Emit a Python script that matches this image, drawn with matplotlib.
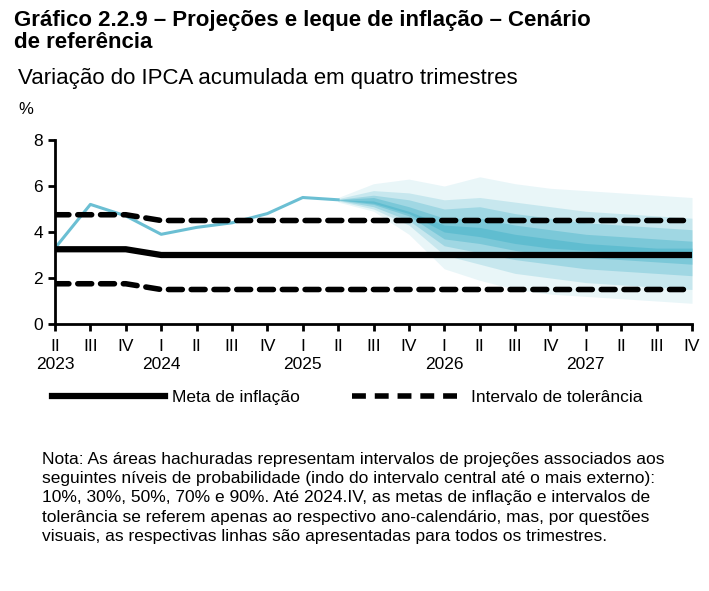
import matplotlib
matplotlib.use("Agg")
import matplotlib.pyplot as plt
import numpy as np

plt.rcParams['font.family'] = ['Liberation Sans', 'DejaVu Sans']

quarters = ["II","III","IV","I","II","III","IV","I","II","III","IV","I","II","III","IV","I","II","III","IV"]
years = {0:"2023", 3:"2024", 7:"2025", 11:"2026", 15:"2027"}
hist = [3.3,5.2,4.7,3.9,4.2,4.4,4.8,5.5,5.4]
meta = [3.25,3.25,3.25,3.0,3.0,3.0,3.0,3.0,3.0,3.0,3.0,3.0,3.0,3.0,3.0,3.0,3.0,3.0,3.0]
tol_up = [4.75,4.75,4.75,4.5,4.5,4.5,4.5,4.5,4.5,4.5,4.5,4.5,4.5,4.5,4.5,4.5,4.5,4.5,4.5]
tol_lo = [1.75,1.75,1.75,1.5,1.5,1.5,1.5,1.5,1.5,1.5,1.5,1.5,1.5,1.5,1.5,1.5,1.5,1.5,1.5]
fan_start = 8
u90 = [5.5,6.1,6.3,6.0,6.4,6.1,5.9,5.8,5.7,5.6,5.5]
l90 = [5.3,4.9,3.9,2.4,1.9,1.5,1.3,1.2,1.1,1.0,0.9]
u70 = [5.45,5.8,5.7,5.4,5.5,5.3,5.1,4.9,4.8,4.7,4.6]
l70 = [5.35,5.0,4.3,3.0,2.6,2.2,2.0,1.8,1.7,1.6,1.5]
u50 = [5.42,5.6,5.4,5.0,5.1,4.8,4.6,4.4,4.3,4.2,4.1]
l50 = [5.38,5.1,4.5,3.4,3.1,2.8,2.6,2.4,2.3,2.2,2.1]
u30 = [5.41,5.5,5.1,4.6,4.6,4.3,4.1,3.9,3.8,3.7,3.6]
l30 = [5.39,5.2,4.7,3.7,3.5,3.2,3.0,2.9,2.8,2.7,2.6]
u10 = [5.4,5.35,4.9,4.3,4.2,3.9,3.7,3.5,3.4,3.3,3.3]
l10 = [5.4,5.25,4.8,4.0,3.8,3.5,3.3,3.2,3.1,3.0,2.9]

fig = plt.figure(figsize=(7.09,5.91), dpi=100)
ax = fig.add_axes([55/709, 1-324/591, 637/709, 184/591])
x = np.arange(len(quarters))
xf = x[fan_start:]
base = "#4fb6cc"
for (u,l,a) in [(u90,l90,0.12),(u70,l70,0.22),(u50,l50,0.32),(u30,l30,0.45),(u10,l10,0.6)]:
    ax.fill_between(xf, l, u, color=base, alpha=a, lw=0)
ax.plot(x[:len(hist)], hist, color="#6bbfd3", lw=2.2)
ax.plot(x, meta, color="black", lw=4.5, solid_capstyle='round')
ax.plot(x, tol_up, color="black", lw=4, ls=(0,(2.5,1.6)), dash_capstyle='round')
ax.plot(x, tol_lo, color="black", lw=4, ls=(0,(2.5,1.6)), dash_capstyle='round')

ax.set_xlim(0, 18)
ax.set_ylim(0, 8)
ax.set_yticks([0,2,4,6,8])
ax.set_xticks(x)
ax.set_xticklabels(quarters)
for i, yl in years.items():
    ax.text(i, -1.45, yl, ha='center', va='top', fontsize=12.5)
ax.tick_params(axis='both', labelsize=12.5, width=2, length=5, direction='out')
ax.tick_params(axis='x', pad=6)
for s in ['top','right']:
    ax.spines[s].set_visible(False)
for s in ['left','bottom']:
    ax.spines[s].set_linewidth(2)

fig.text(14/709, 1-10/591, "Gráfico 2.2.9 – Projeções e leque de inflação – Cenário\nde referência", fontsize=16, fontweight='bold', va='top', linespacing=1.05)
fig.text(18/709, 1-68/591, "Variação do IPCA acumulada em quatro trimestres", fontsize=16, va='top')
fig.text(18/709, 1-102/591, "%", fontsize=12, va='top')

from matplotlib.lines import Line2D
h1 = Line2D([], [], color='black', lw=4.5)
h2 = Line2D([], [], color='black', lw=4, ls=(0,(2.5,1.6)))
fig.legend([h1,h2], ["Meta de inflação","Intervalo de tolerância"], loc='center', bbox_to_anchor=(0.49, 1-397/591),
           ncol=2, frameon=False, fontsize=12.5, handlelength=6.5, columnspacing=3, handletextpad=0.4)

note = ("Nota: As áreas hachuradas representam intervalos de projeções associados aos\n"
        "seguintes níveis de probabilidade (indo do intervalo central até o mais externo):\n"
        "10%, 30%, 50%, 70% e 90%. Até 2024.IV, as metas de inflação e intervalos de\n"
        "tolerância se referem apenas ao respectivo ano-calendário, mas, por questões\n"
        "visuais, as respectivas linhas são apresentadas para todos os trimestres.")
fig.text(42/709, 1-452/591, note, fontsize=12.5, va='top', linespacing=1.35)
fig.savefig("out.png", dpi=100)
